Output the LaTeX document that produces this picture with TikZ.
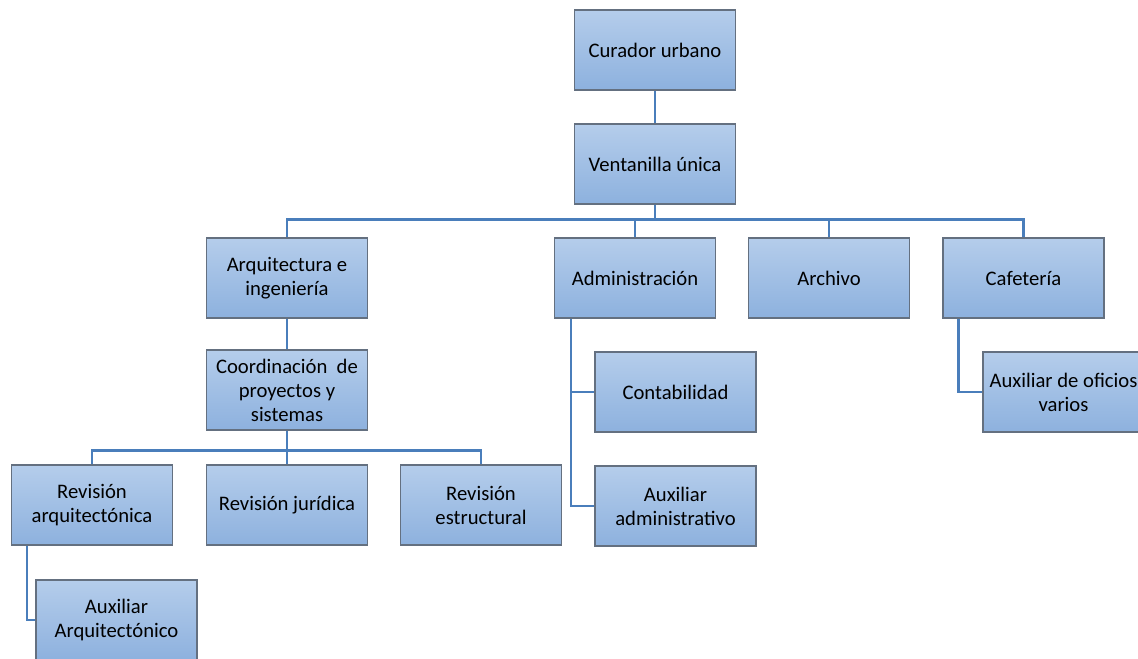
\documentclass[tikz,border=0pt]{standalone}
\usepackage{fontspec}
\setmainfont{Carlito}
\usetikzlibrary{positioning,calc}
\definecolor{boxtop}{RGB}{181,205,235}
\definecolor{boxbot}{RGB}{141,177,222}
\definecolor{boxline}{RGB}{100,112,128}
\definecolor{linkblue}{RGB}{74,126,187}
\begin{document}
\begin{tikzpicture}[x=0.75pt,y=-0.75pt,
  box/.style={draw=boxline,line width=0.8pt,rectangle,top color=boxtop,bottom color=boxbot,
    minimum width=120.75pt,minimum height=60pt,align=center,inner sep=2pt,
    font=\fontsize{15.5}{18}\selectfont},
  link/.style={draw=linkblue,line width=2pt},
  ]
	\useasboundingbox (0,0) rectangle (1138,658) ;
	\node [box] (curador) at (655,50) {Curador urbano} ;
	\node [box] (ventanilla) at (655,164) {Ventanilla única} ;
	\node [box] (arquitectura) at (287,278) {Arquitectura e\\ingeniería} ;
	\node [box] (administracion) at (635,278) {Administración} ;
	\node [box] (archivo) at (829,278) {Archivo} ;
	\node [box] (cafeteria) at (1023.5,278) {Cafetería} ;
	\node [box] (coordinacion) at (287,390) {Coordinación\ \ de\\proyectos y\\sistemas} ;
	\node [box] (revarq) at (92,505) {Revisión\\arquitectónica} ;
	\node [box] (revjur) at (287,505) {Revisión jurídica} ;
	\node [box] (revest) at (481,505) {Revisión\\estructural} ;
	\node [box] (auxarq) at (116.5,620) {Auxiliar\\Arquitectónico} ;
	\node [box] (contabilidad) at (675.5,392) {Contabilidad} ;
	\node [box] (auxadm) at (675.5,506) {Auxiliar\\administrativo} ;
	\node [box] (auxof) at (1063.5,392) {Auxiliar de oficios\\varios} ;
	\draw [link] (curador) -- (ventanilla) ;
	\foreach \n in {arquitectura,administracion,archivo,cafeteria}
		\draw [link] (ventanilla.south) -- ++(0,15) -| (\n.north) ;
	\draw [link] (arquitectura) -- (coordinacion) ;
	\foreach \n in {revarq,revjur,revest}
		\draw [link] (coordinacion.south) -- ++(0,20) -| (\n.north) ;
	\draw [link] ($(revarq.south west)+(16,0)$) |- (auxarq.west) ;
	\draw [link] ($(administracion.south west)+(17,0)$) |- (contabilidad.west) ;
	\draw [link] ($(administracion.south west)+(17,0)$) |- (auxadm.west) ;
	\draw [link] ($(cafeteria.south west)+(16,0)$) |- (auxof.west) ;
\end{tikzpicture}
\end{document}
